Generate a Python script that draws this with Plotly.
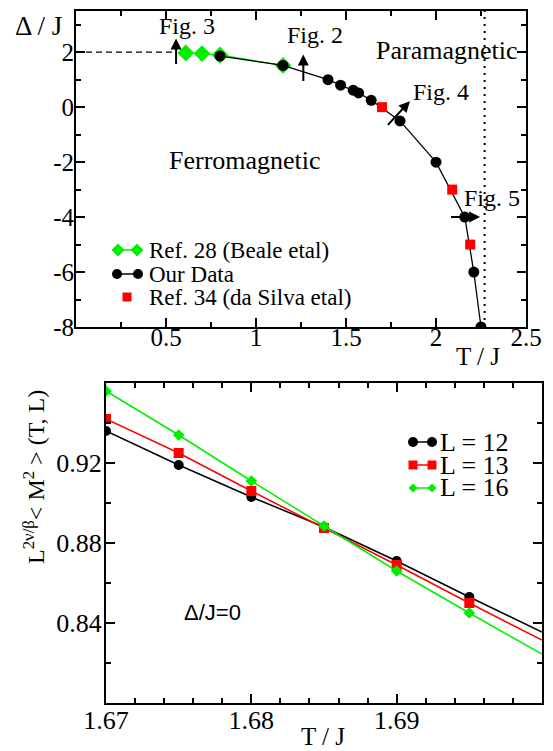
import plotly.graph_objects as go

# page offset of the plot div inside the browser window (default body margin)
OFF = 8
W, H = 553 - OFF, 751 - OFF
SERIF = "Liberation Serif, Times New Roman, serif"
SANS = "Liberation Sans, Arial, sans-serif"
GREEN = "#00ee00"
RED = "#ff0000"

# ---------------- top panel data ----------------
ours_T = [0.80, 1.15, 1.40, 1.47, 1.54, 1.57, 1.64, 1.80, 2.00, 2.16, 2.21, 2.25]
ours_D = [1.86, 1.52, 1.00, 0.80, 0.62, 0.52, 0.25, -0.50, -2.00, -4.00, -6.00, -8.00]
beale_T = [0.61, 0.70, 0.80, 1.15]
beale_D = [1.97, 1.95, 1.90, 1.52]
silva_T = [1.70, 2.09, 2.19]
silva_D = [0.00, -3.00, -5.00]
dash_T = [0.0, 0.56]
dash_D = [2.0, 2.0]
tc_T = [2.27, 2.27]
tc_D = [-8.0, 3.5]
top_names = ["Ref. 28 (Beale etal)", "Our Data", "Ref. 34 (da Silva etal)"]
top_xticks = [0.5, 1, 1.5, 2, 2.5]
top_xlabels = ["0.5", "1", "1.5", "2", "2.5"]
top_yticks = [-8, -6, -4, -2, 0, 2]
top_ylabels = ["-8", "-6", "-4", "-2", "0", "2"]

# ---------------- bottom panel data ----------------
T_pts = [1.670, 1.675, 1.680, 1.685, 1.690, 1.695]
L12 = [0.936, 0.919, 0.903, 0.888, 0.871, 0.853]
L13 = [0.942, 0.925, 0.906, 0.8875, 0.869, 0.850]
L16 = [0.956, 0.934, 0.911, 0.8885, 0.866, 0.845]
T_line = [1.670, 1.675, 1.680, 1.685, 1.690, 1.695, 1.700]
L12_line = L12 + [0.8355]
L13_line = L13 + [0.8314]
L16_line = L16 + [0.8244]
bottom_names = ["L = 12", "L = 13", "L = 16"]
bot_xticks = [1.67, 1.68, 1.69]
bot_xlabels = ["1.67", "1.68", "1.69"]
bot_yticks = [0.84, 0.88, 0.92]
bot_ylabels = ["0.84", "0.88", "0.92"]


def px(x):
    return (x - OFF) / W


def py(y):
    return 1 - (y - OFF) / H


fig = go.Figure()

# top panel traces
fig.add_trace(go.Scatter(x=dash_T, y=dash_D, mode="lines", line=dict(color="black", width=1.3, dash="6px,4px"),
                         showlegend=False, xaxis="x", yaxis="y"))
fig.add_trace(go.Scatter(x=tc_T, y=tc_D, mode="lines", line=dict(color="black", width=2, dash="2px,5px"),
                         showlegend=False, xaxis="x", yaxis="y"))
fig.add_trace(go.Scatter(x=beale_T, y=beale_D, mode="lines+markers", name=top_names[0],
                         line=dict(color=GREEN, width=1.3),
                         marker=dict(symbol="diamond", size=13, color=GREEN),
                         xaxis="x", yaxis="y", showlegend=False))
fig.add_trace(go.Scatter(x=ours_T, y=ours_D, mode="lines+markers", name=top_names[1],
                         line=dict(color="black", width=1.3),
                         marker=dict(symbol="circle", size=11, color="black"),
                         xaxis="x", yaxis="y", showlegend=False))
fig.add_trace(go.Scatter(x=silva_T, y=silva_D, mode="markers", name=top_names[2],
                         marker=dict(symbol="square", size=10, color=RED),
                         xaxis="x", yaxis="y", showlegend=False))

# bottom panel traces
cols = ["black", RED, GREEN]
syms = ["circle", "square", "diamond"]
sizes = [10, 10, 9]
for vals, lvals, c, s, sz, n in zip([L12, L13, L16], [L12_line, L13_line, L16_line], cols, syms, sizes, bottom_names):
    fig.add_trace(go.Scatter(x=T_line, y=lvals, mode="lines", line=dict(color=c, width=1.5),
                             showlegend=False, xaxis="x2", yaxis="y2"))
    fig.add_trace(go.Scatter(x=T_pts, y=vals, mode="markers", name=n,
                             marker=dict(symbol=s, size=sz, color=c),
                             xaxis="x2", yaxis="y2", showlegend=False))

axis_common = dict(showline=True, linecolor="black", linewidth=2, mirror="ticks", ticks="inside",
                   tickcolor="black", tickwidth=1.5, showgrid=False, zeroline=False, automargin=False)


def minor(dt, t0):
    return dict(dtick=dt, tick0=t0, ticklen=5, ticks="inside", tickcolor="black", tickwidth=1.5)


top_font = dict(family=SERIF, size=25, color="black")
bot_font = dict(family=SERIF, size=26, color="black")

fig.update_layout(
    width=W, height=H, margin=dict(l=0, r=0, t=0, b=0, autoexpand=False),
    plot_bgcolor="white", paper_bgcolor="white", showlegend=False,
    xaxis=dict(domain=[px(76), px(526)], range=[0, 2.5], anchor="y",
               tickvals=top_xticks, ticktext=top_xlabels, ticklen=9,
               minor=minor(0.25, 0), ticklabelstandoff=-13, tickfont=top_font, **axis_common),
    yaxis=dict(domain=[py(327), py(11)], range=[-8, 3.5], anchor="x",
               tickvals=top_yticks, ticktext=top_ylabels, ticklen=9,
               minor=minor(1, 0), ticklabelstandoff=-5, tickfont=top_font, **axis_common),
    xaxis2=dict(domain=[px(106), px(542)], range=[1.67, 1.70], anchor="y2",
                tickvals=bot_xticks, ticktext=bot_xlabels, ticklen=9,
                minor=minor(0.002, 1.67), ticklabelstandoff=-7, tickfont=bot_font, **axis_common),
    yaxis2=dict(domain=[py(703), py(383)], range=[0.80, 0.96], anchor="x2",
                tickvals=bot_yticks, ticktext=bot_ylabels, ticklen=9,
                minor=minor(0.02, 0.80), ticklabelstandoff=-3, tickfont=bot_font, **axis_common),
)

ann = []
shapes = []


def txt(text, x, y, size=24, family=SERIF, xref="paper", yref="paper", angle=0, xanchor="center"):
    ann.append(dict(text=text, x=x, y=y, xref=xref, yref=yref, showarrow=False,
                    font=dict(family=family, size=size, color="black"),
                    xanchor=xanchor, yanchor="middle", textangle=angle))


def arrow(x, y, ax, ay):
    ann.append(dict(text="", x=x, y=y, ax=ax, ay=ay, xref="x", yref="y", axref="x", ayref="y",
                    showarrow=True, arrowhead=2, arrowsize=1.1, arrowwidth=2, arrowcolor="black"))


# ---- legend symbols (paper-pixel positioned) ----
def leg_line(x0, x1, y, color):
    shapes.append(dict(type="line", xref="paper", yref="paper", x0=px(x0), x1=px(x1), y0=py(y), y1=py(y),
                       line=dict(color=color, width=1.5)))


def leg_marker(kind, x, y, r, color):
    base = dict(xref="paper", yref="paper", xsizemode="pixel", ysizemode="pixel",
                xanchor=px(x), yanchor=py(y), fillcolor=color, line=dict(color=color, width=0))
    if kind == "circle":
        shapes.append(dict(type="circle", x0=-r, x1=r, y0=-r, y1=r, **base))
    elif kind == "square":
        shapes.append(dict(type="rect", x0=-r, x1=r, y0=-r, y1=r, **base))
    else:
        shapes.append(dict(type="path", path=f"M {-r} 0 L 0 {r} L {r} 0 L 0 {-r} Z", **base))


# top legend
top_rows = [250, 274, 297]
leg_line(118, 137, top_rows[0], GREEN)
leg_marker("diamond", 118, top_rows[0], 6.5, GREEN)
leg_marker("diamond", 137, top_rows[0], 6.5, GREEN)
leg_line(117, 138, top_rows[1], "black")
leg_marker("circle", 117, top_rows[1], 5, "black")
leg_marker("circle", 138, top_rows[1], 5, "black")
leg_marker("square", 127, top_rows[2], 4.5, RED)
for nm, yy in zip(top_names, top_rows):
    txt(nm, px(147), py(yy), size=23, xanchor="left")

# bottom legend
bot_rows = [442, 465, 488]
for c, s, yy, nm in zip(cols, syms, bot_rows, bottom_names):
    leg_line(413, 432, yy, c)
    r = 5 if s == "circle" else 4.5
    leg_marker(s, 413, yy, r, c)
    leg_marker(s, 432, yy, r, c)
    txt(nm, px(438), py(yy), size=26, xanchor="left")

# top panel texts
txt("Δ / J", px(38), py(26), size=27)
txt("T / J", px(478), py(356), size=25)
txt("Fig. 3", 0.617, 2.95, xref="x", yref="y")
txt("Fig. 2", 1.33, 2.62, xref="x", yref="y")
txt("Paramagnetic", 2.06, 2.07, size=26, xref="x", yref="y")
txt("Fig. 4", 2.03, 0.55, xref="x", yref="y")
txt("Fig. 5", 2.31, -3.3, xref="x", yref="y")
txt("Ferromagnetic", 0.94, -1.93, size=26, xref="x", yref="y")
arrow(0.556, 2.5, 0.556, 1.52)
arrow(1.263, 1.92, 1.263, 0.9)
arrow(1.855, 0.22, 1.725, -0.7)
arrow(2.245, -4.0, 2.075, -4.0)

# bottom panel texts
txt("Δ/J=0", px(212), py(612), size=22, family=SANS)
txt("T / J", px(323), py(736), size=25)
txt("L<sup>2ν/β</sup>&lt; M<sup>2</sup> &gt; (T, L)", px(34), py(477), size=24, angle=-90)

fig.update_layout(annotations=ann, shapes=shapes)
fig.write_html("out.html")
